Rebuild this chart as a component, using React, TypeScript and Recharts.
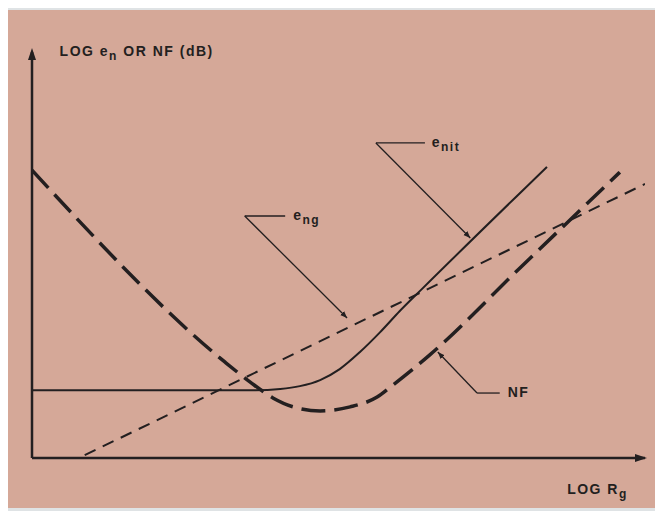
import { LineChart, Line, XAxis, YAxis, ReferenceLine, ReferenceDot } from "recharts"

// curve points in (log Rg, log en) units
const enitX = [0, 3.64, 4.05, 4.37, 4.7, 5.02, 5.35, 5.68, 6.0, 6.38, 8.4]
const enitY = [1.67, 1.67, 1.7, 1.77, 1.92, 2.19, 2.61, 3.1, 3.62, 4.19, 7.17]

const engX = [0.86, 10]
const engY = [0.07, 6.75]

const nfX = [0, 3.15, 3.56, 3.93, 4.26, 4.7, 5.19, 5.63, 5.89, 6.49, 7.96, 9.59]
const nfY = [7.09, 2.36, 1.87, 1.48, 1.26, 1.16, 1.26, 1.5, 1.8, 2.54, 4.68, 7.04]

// label leaders: [corner, tip], and end of the short horizontal stub
const enitLeader = [[5.61, 7.76], [7.15, 5.42]]
const enitStub = [6.41, 7.76]
const engLeader = [[3.47, 5.96], [5.14, 3.45]]
const engStub = [4.13, 5.96]
const nfLeader = [[7.26, 1.6], [6.62, 2.61]]
const nfStub = [7.63, 1.6]

const toRows = (xs: number[], ys: number[]) => xs.map((x, i) => ({ x, y: ys[i] }))

const INK = "#231f20"
const FONT = "'Liberation Sans', Arial, sans-serif"

const Sub = ({ cx, cy, main, sub, after }: any) => (
  <text x={cx} y={cy} fill={INK} fontFamily={FONT} fontSize={14} fontWeight={600} letterSpacing={1.5} dominantBaseline="middle">
    <tspan>{main}</tspan>
    <tspan dy={5} fontSize={12}>{sub}</tspan>
    {after ? <tspan dy={-5}>{after}</tspan> : null}
  </text>
)

export default function App() {
  return (
    <div style={{ position: "relative", width: 663, height: 519, margin: -8, background: "#dfe3e5", overflow: "hidden" }}>
      <div style={{ position: "absolute", left: 8, top: 10, width: 648, height: 498, background: "#d5a898" }} />
      <div style={{ position: "absolute", left: 0, top: 0 }}>
        <LineChart width={663} height={519} margin={{ top: 52, right: 18, bottom: 61, left: 32 }}>
          <defs>
            <marker id="tip" viewBox="0 0 10 10" refX="10" refY="5" markerWidth="7" markerHeight="7" orient="auto" markerUnits="userSpaceOnUse">
              <path d="M0,1 L10,5 L0,9 z" fill={INK} />
            </marker>
          </defs>
          <XAxis type="number" dataKey="x" domain={[0, 10]} hide allowDataOverflow />
          <YAxis type="number" dataKey="y" domain={[0, 10]} hide allowDataOverflow />

          <ReferenceLine y={0} stroke={INK} strokeWidth={2.5} />
          <ReferenceLine x={0} stroke={INK} strokeWidth={2.5} />
          <ReferenceDot x={10} y={0} ifOverflow="visible"
            shape={(p: any) => <polygon points={`${p.cx + 2},${p.cy} ${p.cx - 10},${p.cy - 4} ${p.cx - 10},${p.cy + 4}`} fill={INK} />} />
          <ReferenceDot x={0} y={10} ifOverflow="visible"
            shape={(p: any) => <polygon points={`${p.cx},${p.cy - 4} ${p.cx - 4},${p.cy + 8} ${p.cx + 4},${p.cy + 8}`} fill={INK} />} />

          <Line data={toRows(enitX, enitY)} dataKey="y" type="monotone" stroke={INK} strokeWidth={2} dot={false} isAnimationActive={false} />
          <Line data={toRows(engX, engY)} dataKey="y" type="linear" stroke={INK} strokeWidth={2} strokeDasharray="12 8" dot={false} isAnimationActive={false} />
          <Line data={toRows(nfX, nfY)} dataKey="y" type="monotone" stroke={INK} strokeWidth={3.5} strokeDasharray="24 9" dot={false} isAnimationActive={false} />

          <ReferenceLine segment={[{ x: enitLeader[0][0], y: enitLeader[0][1] }, { x: enitLeader[1][0], y: enitLeader[1][1] }]} stroke={INK} strokeWidth={1.3} markerEnd="url(#tip)" ifOverflow="visible" />
          <ReferenceLine segment={[{ x: enitLeader[0][0], y: enitLeader[0][1] }, { x: enitStub[0], y: enitStub[1] }]} stroke={INK} strokeWidth={1.3} />
          <ReferenceLine segment={[{ x: engLeader[0][0], y: engLeader[0][1] }, { x: engLeader[1][0], y: engLeader[1][1] }]} stroke={INK} strokeWidth={1.3} markerEnd="url(#tip)" />
          <ReferenceLine segment={[{ x: engLeader[0][0], y: engLeader[0][1] }, { x: engStub[0], y: engStub[1] }]} stroke={INK} strokeWidth={1.3} />
          <ReferenceLine segment={[{ x: nfLeader[0][0], y: nfLeader[0][1] }, { x: nfLeader[1][0], y: nfLeader[1][1] }]} stroke={INK} strokeWidth={1.3} markerEnd="url(#tip)" />
          <ReferenceLine segment={[{ x: nfLeader[0][0], y: nfLeader[0][1] }, { x: nfStub[0], y: nfStub[1] }]} stroke={INK} strokeWidth={1.3} />

          <ReferenceDot x={enitStub[0] + 0.11} y={enitStub[1]} ifOverflow="visible" shape={(p: any) => <Sub {...p} main="e" sub="nit" />} />
          <ReferenceDot x={engStub[0] + 0.13} y={engStub[1]} ifOverflow="visible" shape={(p: any) => <Sub {...p} main="e" sub="ng" />} />
          <ReferenceDot x={nfStub[0] + 0.13} y={nfStub[1]} ifOverflow="visible"
            shape={(p: any) => <text x={p.cx} y={p.cy} fill={INK} fontFamily={FONT} fontSize={14} fontWeight={600} letterSpacing={1.5} dominantBaseline="middle">NF</text>} />

          <ReferenceDot x={0.45} y={10} ifOverflow="visible" shape={(p: any) => <Sub {...p} main="LOG e" sub="n" after=" OR NF (dB)" />} />
          <ReferenceDot x={8.73} y={-0.78} ifOverflow="visible" shape={(p: any) => <Sub {...p} main="LOG R" sub="g" />} />
        </LineChart>
      </div>
    </div>
  )
}
